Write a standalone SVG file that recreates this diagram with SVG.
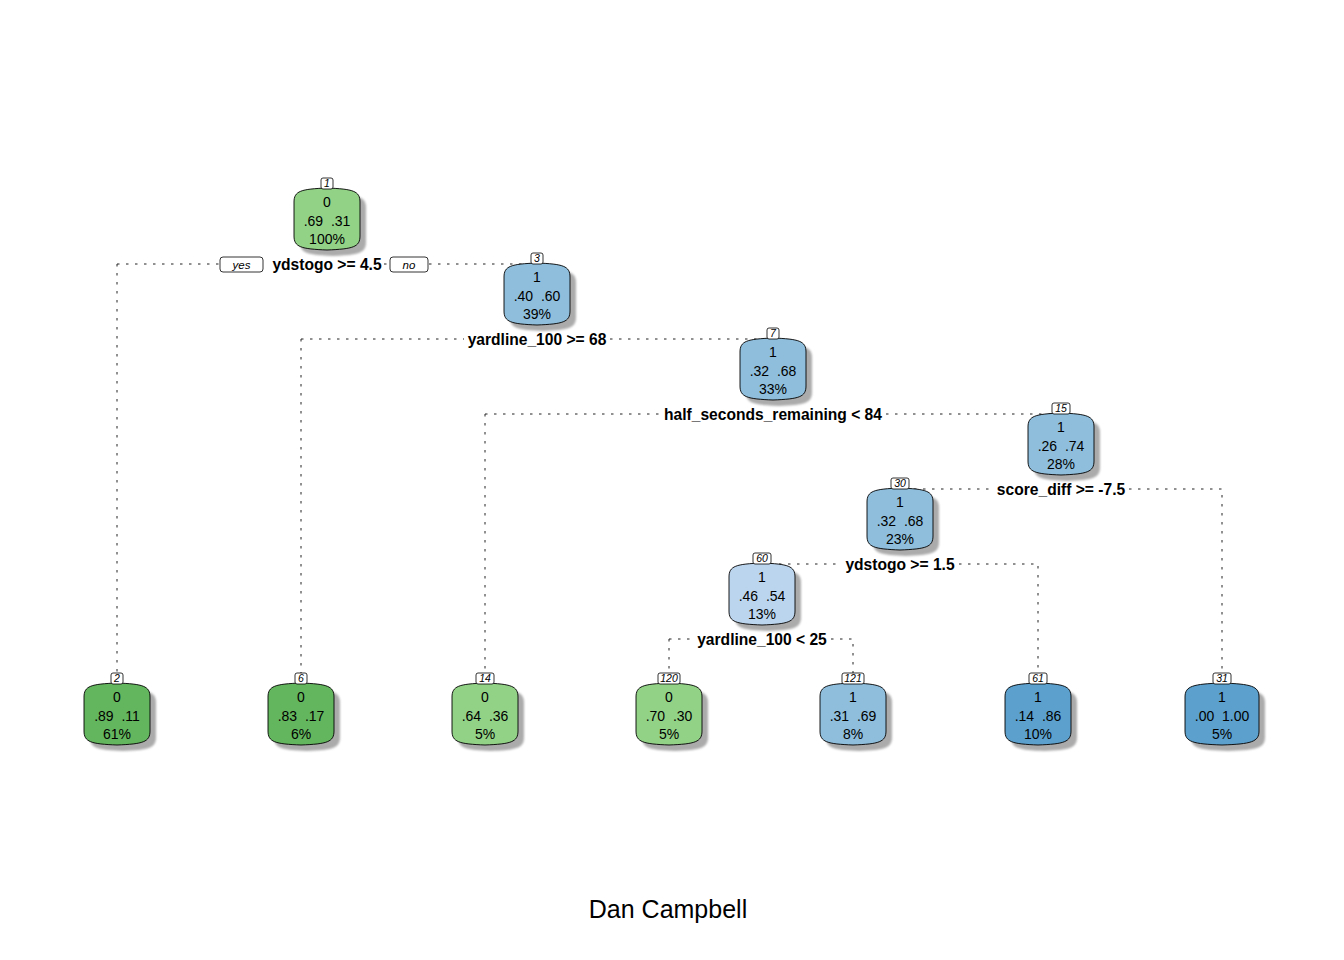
<svg xmlns="http://www.w3.org/2000/svg" xmlns:xlink="http://www.w3.org/1999/xlink" width="1344" height="960" viewBox="0 0 1344 960">
<style>
.t{font-family:"Liberation Sans",Arial,sans-serif;font-size:14px;text-anchor:middle;fill:#000;white-space:pre}
.s{font-family:"Liberation Sans",Arial,sans-serif;font-size:15.6px;font-weight:bold;text-anchor:middle;fill:#000}
.n{font-family:"Liberation Sans",Arial,sans-serif;font-size:10.5px;font-style:italic;text-anchor:middle;fill:#000}
.y{font-family:"Liberation Sans",Arial,sans-serif;font-size:11.5px;font-style:italic;text-anchor:middle;fill:#000}
.lb{fill:#fff;stroke:#000;stroke-width:0.8}
.bx{stroke:#000;stroke-width:0.9}
.sh{fill:#ababab;filter:url(#blur)}
.c{stroke:#222;stroke-width:1;stroke-dasharray:2.5 6.5;fill:none}
.g1{fill:#92d286}
.g2{fill:#64b65e}
.b1{fill:#8ebedc}
.b0{fill:#bcd5ee}
.b2{fill:#5ca0cd}
</style>
<defs>
<filter id="blur" x="-20%" y="-20%" width="140%" height="140%"><feGaussianBlur stdDeviation="1.3"/></filter>
<path id="box" d="M-33,14 C-33,3 -26,1 0,0 C26,1 33,3 33,14 L33,48 C33,59 26,61 0,62 C-26,61 -33,59 -33,48 Z"/>
<path id="boxw" d="M-37,14 C-37,3 -29,1 0,0 C29,1 37,3 37,14 L37,48 C37,59 29,61 0,62 C-29,61 -37,59 -37,48 Z"/>
</defs>
<rect width="1344" height="960" fill="#fff"/>

<g id="connectors">
<path class="c" d="M117,264 H219 M117,264 V673 M384,264 H389 M429,264 H531"/>
<path class="c" d="M301,339 H464 M301,339 V673 M610,339 H767"/>
<path class="c" d="M485,414 H660 M485,414 V673 M886,414 H1052"/>
<path class="c" d="M905,489 H993 M1129,489 H1222 V673"/>
<path class="c" d="M770,564 H841 M959,564 H1038 V673"/>
<path class="c" d="M669,639 H693 M669,639 V673 M831,639 H853 V673"/>
</g>

<g id="splits">
<rect class="lb" x="220" y="257" width="43" height="15" rx="3"/>
<text class="y" x="241.5" y="268.5">yes</text>
<text class="s" x="327" y="269.5">ydstogo &gt;= 4.5</text>
<rect class="lb" x="390" y="257" width="38" height="15" rx="3"/>
<text class="y" x="409" y="268.5">no</text>
<text class="s" x="537" y="344.5">yardline_100 &gt;= 68</text>
<text class="s" x="773" y="419.5">half_seconds_remaining &lt; 84</text>
<text class="s" x="1061" y="494.5">score_diff &gt;= -7.5</text>
<text class="s" x="900" y="569.5">ydstogo &gt;= 1.5</text>
<text class="s" x="762" y="644.5">yardline_100 &lt; 25</text>
</g>

<g id="node1" transform="translate(327,188)">
<use xlink:href="#box" class="sh" x="6" y="6"/>
<use xlink:href="#box" class="bx g1"/>
<text class="t" y="19">0</text><text class="t" y="38">.69  .31</text><text class="t" y="56">100%</text>
<rect class="lb" x="-6" y="-10" width="12" height="11" rx="2"/><text class="n" y="-1">1</text>
</g>
<g id="node3" transform="translate(537,263)">
<use xlink:href="#box" class="sh" x="6" y="6"/>
<use xlink:href="#box" class="bx b1"/>
<text class="t" y="19">1</text><text class="t" y="38">.40  .60</text><text class="t" y="56">39%</text>
<rect class="lb" x="-6" y="-10" width="12" height="11" rx="2"/><text class="n" y="-1">3</text>
</g>
<g id="node7" transform="translate(773,338)">
<use xlink:href="#box" class="sh" x="6" y="6"/>
<use xlink:href="#box" class="bx b1"/>
<text class="t" y="19">1</text><text class="t" y="38">.32  .68</text><text class="t" y="56">33%</text>
<rect class="lb" x="-6" y="-10" width="12" height="11" rx="2"/><text class="n" y="-1">7</text>
</g>
<g id="node15" transform="translate(1061,413)">
<use xlink:href="#box" class="sh" x="6" y="6"/>
<use xlink:href="#box" class="bx b1"/>
<text class="t" y="19">1</text><text class="t" y="38">.26  .74</text><text class="t" y="56">28%</text>
<rect class="lb" x="-9" y="-10" width="18" height="11" rx="2"/><text class="n" y="-1">15</text>
</g>
<g id="node30" transform="translate(900,488)">
<use xlink:href="#box" class="sh" x="6" y="6"/>
<use xlink:href="#box" class="bx b1"/>
<text class="t" y="19">1</text><text class="t" y="38">.32  .68</text><text class="t" y="56">23%</text>
<rect class="lb" x="-9" y="-10" width="18" height="11" rx="2"/><text class="n" y="-1">30</text>
</g>
<g id="node60" transform="translate(762,563)">
<use xlink:href="#box" class="sh" x="6" y="6"/>
<use xlink:href="#box" class="bx b0"/>
<text class="t" y="19">1</text><text class="t" y="38">.46  .54</text><text class="t" y="56">13%</text>
<rect class="lb" x="-9" y="-10" width="18" height="11" rx="2"/><text class="n" y="-1">60</text>
</g>

<g id="node2" transform="translate(117,683)">
<use xlink:href="#box" class="sh" x="6" y="6"/>
<use xlink:href="#box" class="bx g2"/>
<text class="t" y="19">0</text><text class="t" y="38">.89  .11</text><text class="t" y="56">61%</text>
<rect class="lb" x="-6" y="-10" width="12" height="11" rx="2"/><text class="n" y="-1">2</text>
</g>
<g id="node6" transform="translate(301,683)">
<use xlink:href="#box" class="sh" x="6" y="6"/>
<use xlink:href="#box" class="bx g2"/>
<text class="t" y="19">0</text><text class="t" y="38">.83  .17</text><text class="t" y="56">6%</text>
<rect class="lb" x="-6" y="-10" width="12" height="11" rx="2"/><text class="n" y="-1">6</text>
</g>
<g id="node14" transform="translate(485,683)">
<use xlink:href="#box" class="sh" x="6" y="6"/>
<use xlink:href="#box" class="bx g1"/>
<text class="t" y="19">0</text><text class="t" y="38">.64  .36</text><text class="t" y="56">5%</text>
<rect class="lb" x="-9" y="-10" width="18" height="11" rx="2"/><text class="n" y="-1">14</text>
</g>
<g id="node120" transform="translate(669,683)">
<use xlink:href="#box" class="sh" x="6" y="6"/>
<use xlink:href="#box" class="bx g1"/>
<text class="t" y="19">0</text><text class="t" y="38">.70  .30</text><text class="t" y="56">5%</text>
<rect class="lb" x="-11" y="-10" width="22" height="11" rx="2"/><text class="n" y="-1">120</text>
</g>
<g id="node121" transform="translate(853,683)">
<use xlink:href="#box" class="sh" x="6" y="6"/>
<use xlink:href="#box" class="bx b1"/>
<text class="t" y="19">1</text><text class="t" y="38">.31  .69</text><text class="t" y="56">8%</text>
<rect class="lb" x="-11" y="-10" width="22" height="11" rx="2"/><text class="n" y="-1">121</text>
</g>
<g id="node61" transform="translate(1038,683)">
<use xlink:href="#box" class="sh" x="6" y="6"/>
<use xlink:href="#box" class="bx b2"/>
<text class="t" y="19">1</text><text class="t" y="38">.14  .86</text><text class="t" y="56">10%</text>
<rect class="lb" x="-9" y="-10" width="18" height="11" rx="2"/><text class="n" y="-1">61</text>
</g>
<g id="node31" transform="translate(1222,683)">
<use xlink:href="#boxw" class="sh" x="6" y="6"/>
<use xlink:href="#boxw" class="bx b2"/>
<text class="t" y="19">1</text><text class="t" y="38">.00  1.00</text><text class="t" y="56">5%</text>
<rect class="lb" x="-9" y="-10" width="18" height="11" rx="2"/><text class="n" y="-1">31</text>
</g>

<text x="668" y="918" style="font-family:'Liberation Sans',Arial,sans-serif;font-size:25px;text-anchor:middle;fill:#000">Dan Campbell</text>
</svg>
